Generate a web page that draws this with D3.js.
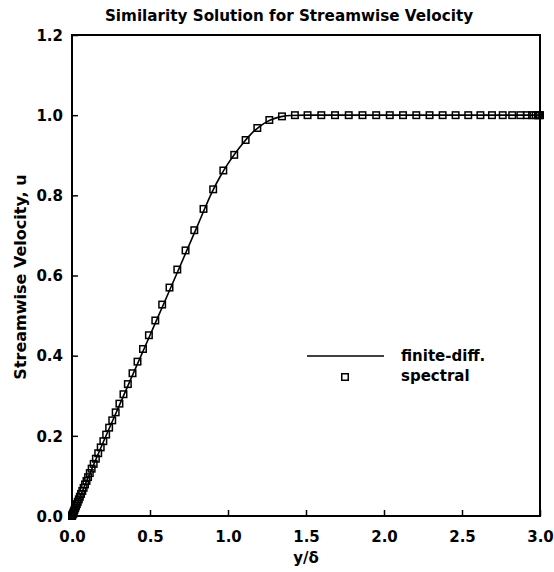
<!DOCTYPE html>
<html><head><meta charset="utf-8">
<script src="https://cdn.jsdelivr.net/npm/d3@7"></script>
<style>body{margin:0;background:#fff}text{font-family:"DejaVu Sans",Verdana,sans-serif;font-weight:bold;fill:#000}</style>
</head><body><svg id="c" width="554" height="572"></svg>
<script>
const title = "Similarity Solution for Streamwise Velocity";
const xTitle = "y/δ";
const yTitle = "Streamwise Velocity, u";
const xTicks = [0, 0.5, 1.0, 1.5, 2.0, 2.5, 3.0];
const yTicks = [0, 0.2, 0.4, 0.6, 0.8, 1.0, 1.2];
const legendLabels = ["finite-diff.", "spectral"];

// finite-difference solution (line)
const fdEta = [0, 0.1, 0.2, 0.3, 0.4, 0.5, 0.6, 0.7, 0.8, 0.9, 0.95, 1.0, 1.05, 1.1, 1.15, 1.2, 1.25, 1.3, 1.35, 1.4, 1.5, 2.0, 2.5, 3.0];
const fdU   = [0, 0.093, 0.184, 0.273, 0.362, 0.451, 0.54, 0.63, 0.72, 0.81, 0.847, 0.879, 0.907, 0.932, 0.954, 0.971, 0.984, 0.992, 0.997, 0.999, 1.0, 1.0, 1.0, 1.0];

// spectral solution (markers)
const spEta = [0, 0.0012, 0.003, 0.0055, 0.0085, 0.012, 0.016, 0.0205, 0.0255, 0.031, 0.037, 0.0435, 0.0505, 0.058, 0.066, 0.0745, 0.0835, 0.093, 0.103, 0.114, 0.126, 0.139, 0.153, 0.168, 0.184, 0.201, 0.219, 0.238, 0.258, 0.280, 0.304, 0.330, 0.358, 0.388, 0.420, 0.455, 0.493, 0.534, 0.578, 0.625, 0.675, 0.728, 0.784, 0.843, 0.905, 0.970, 1.040, 1.113, 1.188, 1.265, 1.346, 1.429, 1.510, 1.598, 1.686, 1.774, 1.862, 1.950, 2.037, 2.122, 2.207, 2.292, 2.376, 2.459, 2.540, 2.618, 2.692, 2.761, 2.822, 2.874, 2.916, 2.949, 2.972, 2.987, 2.996, 3.0];
const spU   = [0, 0.0012, 0.0029, 0.0053, 0.0082, 0.0116, 0.0154, 0.0197, 0.0245, 0.0297, 0.0354, 0.0415, 0.0481, 0.0551, 0.0625, 0.0704, 0.0788, 0.0876, 0.0969, 0.1071, 0.1181, 0.1301, 0.1429, 0.1566, 0.1712, 0.1867, 0.2031, 0.2204, 0.2386, 0.2586, 0.2803, 0.3038, 0.3291, 0.3562, 0.3851, 0.4167, 0.4510, 0.4878, 0.5275, 0.5699, 0.6149, 0.6626, 0.7130, 0.7661, 0.815, 0.862, 0.901, 0.938, 0.968, 0.988, 0.997, 1.0, 1.0, 1.0, 1.0, 1.0, 1.0, 1.0, 1.0, 1.0, 1.0, 1.0, 1.0, 1.0, 1.0, 1.0, 1.0, 1.0, 1.0, 1.0, 1.0, 1.0, 1.0, 1.0, 1.0, 1.0];

const svg = d3.select("#c");
const m = {l:72, r:540, t:35, b:516};
const x = d3.scaleLinear().domain([0,3]).range([m.l, m.r]);
const y = d3.scaleLinear().domain([0,1.2]).range([m.b, m.t]);
const FF = '"DejaVu Sans",Verdana,sans-serif';

// frame
svg.append("rect").attr("x", m.l).attr("y", m.t).attr("width", m.r-m.l).attr("height", m.b-m.t)
  .attr("fill","none").attr("stroke","#000").attr("stroke-width",2);

// axes with inward ticks
const xa = svg.append("g").attr("transform",`translate(0,${m.b})`)
  .call(d3.axisBottom(x).tickValues(xTicks).tickFormat(d3.format(".1f")).tickSizeInner(-6).tickSizeOuter(0).tickPadding(15));
const ya = svg.append("g").attr("transform",`translate(${m.l},0)`)
  .call(d3.axisLeft(y).tickValues(yTicks).tickFormat(d3.format(".1f")).tickSizeInner(-6).tickSizeOuter(0).tickPadding(9));
[xa, ya].forEach(g => {
  g.select(".domain").remove();
  g.selectAll(".tick line").attr("stroke","#000").attr("stroke-width",1.5);
  g.selectAll(".tick text").attr("font-size",15).attr("font-family",FF).attr("font-weight","bold");
});
ya.selectAll(".tick text").attr("dy","0.35em");

// titles
svg.append("text").attr("x", 289).attr("y", 21).attr("text-anchor","middle").attr("font-size",15.2).text(title);
svg.append("text").attr("x", 306).attr("y", 563).attr("text-anchor","middle").attr("font-size",15).text(xTitle);
svg.append("text").attr("transform","translate(26,277) rotate(-90)").attr("text-anchor","middle").attr("font-size",16).text(yTitle);

// line
const line = d3.line().x((d,i)=>x(fdEta[i])).y((d,i)=>y(fdU[i])).curve(d3.curveMonotoneX);
svg.append("path").datum(fdU).attr("d", line).attr("fill","none").attr("stroke","#000").attr("stroke-width",1.6);

// markers
const ms = 6.5;
svg.append("g").selectAll("rect").data(spU).join("rect")
  .attr("x",(d,i)=>x(spEta[i])-ms/2).attr("y",d=>y(d)-ms/2).attr("width",ms).attr("height",ms)
  .attr("fill","none").attr("stroke","#000").attr("stroke-width",1.5);

// legend
const lg = svg.append("g");
lg.append("line").attr("x1",307).attr("x2",384).attr("y1",356).attr("y2",356).attr("stroke","#000").attr("stroke-width",1.6);
lg.append("rect").attr("x",345-ms/2).attr("y",377-ms/2).attr("width",ms).attr("height",ms).attr("fill","none").attr("stroke","#000").attr("stroke-width",1.5);
lg.append("text").attr("x",401).attr("y",361).attr("font-size",15).text(legendLabels[0]);
lg.append("text").attr("x",401).attr("y",381).attr("font-size",15).text(legendLabels[1]);
</script></body></html>
